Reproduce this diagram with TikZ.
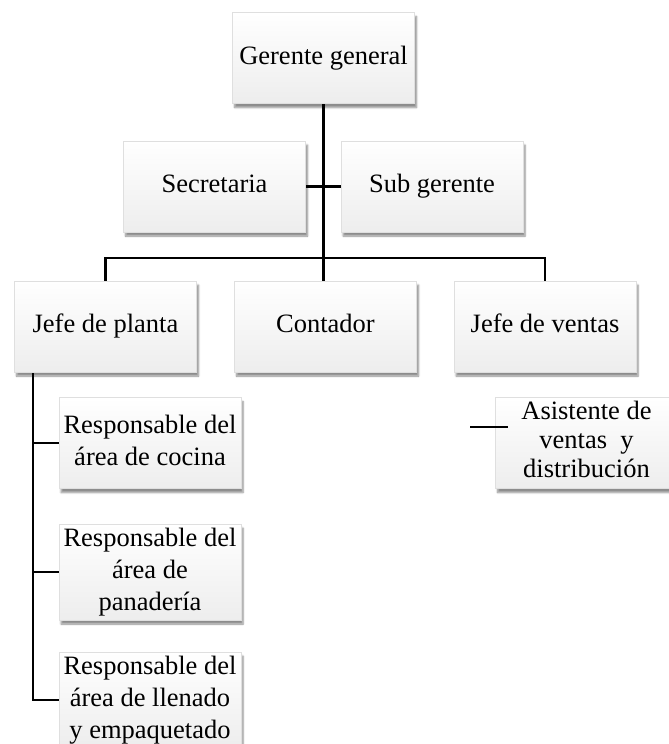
\documentclass[tikz,border=0pt]{standalone}
\usepackage{fontspec}
\setmainfont{Liberation Serif}
\usetikzlibrary{shadows.blur,backgrounds}
\begin{document}
\begin{tikzpicture}[x=1pt,y=-1pt,
  orgbox/.style={rectangle, draw=gray!25, line width=0.5pt, top color=white, bottom color=gray!14,
    minimum width=182pt, minimum height=91pt, inner sep=0pt, align=center,
    font=\fontsize{26.5}{32}\selectfont,
    blur shadow={shadow xshift=2pt, shadow yshift=-4pt, shadow blur steps=6, shadow opacity=45}},
  link/.style={line width=2.6pt, black}]
\useasboundingbox (0,0) rectangle (669,744);
% nodes
\node[orgbox] (gg)  at (323.5,58)  {\strut Gerente general};
\node[orgbox] (sec) at (214.5,186.5) {\strut Secretaria};
\node[orgbox] (sub) at (432,186.5) {\strut Sub gerente};
\node[orgbox] (jp)  at (105.5,326.5) {\strut Jefe de planta};
\node[orgbox] (cont) at (325.5,326.5) {\strut Contador};
\node[orgbox] (jv)  at (545,326.5) {\strut Jefe de ventas};
\node[orgbox] (coc) at (150,443) {\strut Responsable del\\\strut área de cocina};
\node[orgbox] (pan) at (150,572) {\strut Responsable del\\\strut área de\\\strut panadería};
\node[orgbox] (lle) at (150,700) {\strut Responsable del\\\strut área de llenado\\\strut y empaquetado};
\node[orgbox, font=\fontsize{26.5}{29}\selectfont] (asi) at (586.5,443) {\strut Asistente de\\\strut ventas~ y\\\strut distribución};
% coordinates
\coordinate (bus) at (323.5,258);
\coordinate (busL) at (105.5,258);
\coordinate (busR) at (545,258);
\coordinate (jpl) at (33,372);
\coordinate (a1) at (470,427);
\coordinate (a2) at (508,427);
\begin{pgfonlayer}{background}
\draw[link] (gg.south) -- (bus);
\draw[link] (sec.east) -- (sub.west);
\draw[link] (jp.north) -- (busL) -- (busR) -- (jv.north);
\draw[link] (bus) -- (bus |- cont.north);
\draw[link] (jpl) |- (lle.west);
\draw[link] (jpl |- coc.west) -- (coc.west);
\draw[link] (jpl |- pan.west) -- (pan.west);
\end{pgfonlayer}
\draw[line width=2pt] (a1) -- (a2);
\end{tikzpicture}
\end{document}
